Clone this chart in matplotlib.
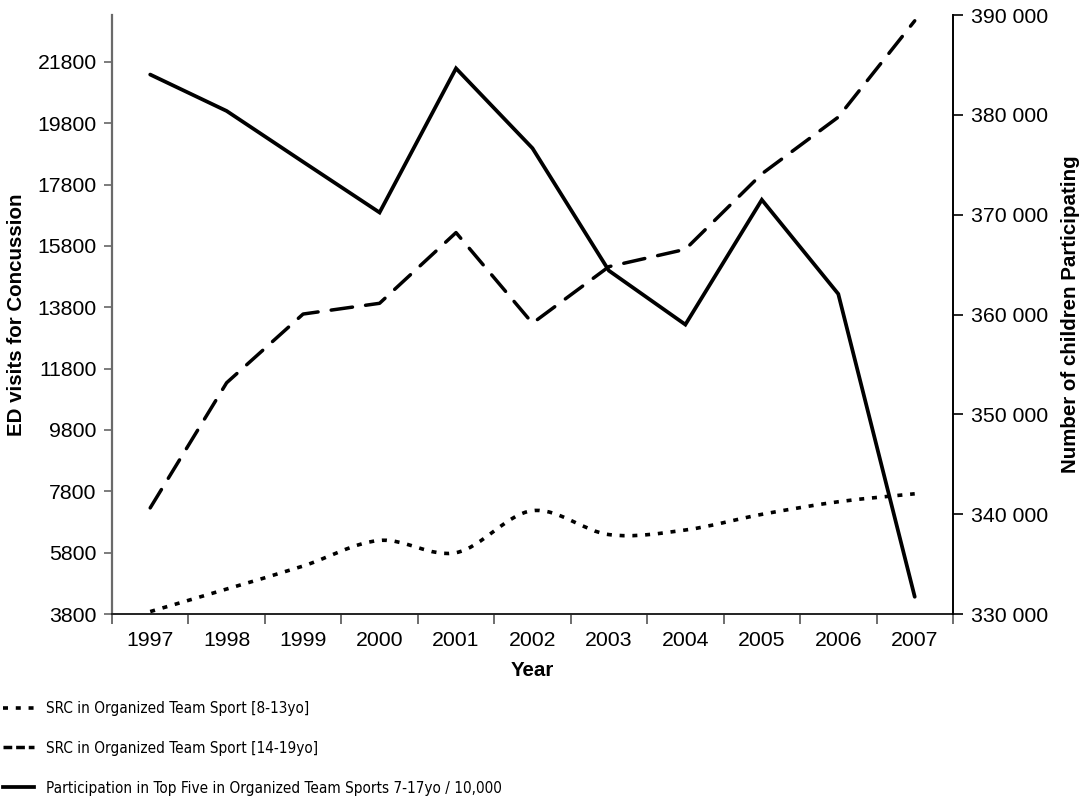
import numpy as np
import matplotlib
matplotlib.use("Agg")
import matplotlib.pyplot as plt
from matplotlib.path import Path
from matplotlib.patches import PathPatch
from matplotlib.lines import Line2D
from matplotlib.ticker import FuncFormatter

plt.rcParams['font.family'] = ['Liberation Sans', 'DejaVu Sans']
plt.rcParams['lines.scale_dashes'] = False

# Data
years = ['1997', '1998', '1999', '2000', '2001', '2002', '2003', '2004', '2005', '2006', '2007']
src_8_13 = [3880, 4615, 5365, 6200, 5800, 7170, 6390, 6540, 7050, 7460, 7720]
src_14_19 = [7260, 11340, 13580, 13930, 16235, 13280, 15125, 15690, 18150, 20000, 23140]
participation = [384050, 380400, 375300, 370230, 384670, 376670, 364400, 359000, 371500, 362070, 331730]

label_8_13 = 'SRC in Organized Team Sport [8-13yo]'
label_14_19 = 'SRC in Organized Team Sport [14-19yo]'
label_part = 'Participation in Top Five in Organized Team Sports 7-17yo / 10,000'

left_ticks = list(range(3800, 21801, 2000))
right_ticks = list(range(330000, 390001, 10000))

DOTS = (0, (3.6, 5.6))
DASHES = (0, (15.5, 9.5))
LW_DOT = 2.6
LW_DASH = 2.5
LW_SOLID = 2.7
TICK_FS = 15.3
LABEL_FS = 14.8
LEGEND_FS = 11.0

fig = plt.figure(figsize=(10.85, 7.96), dpi=100)
ax = fig.add_axes([0.1032, 0.2286, 0.7751, 0.7526])
ax2 = ax.twinx()

x = np.arange(len(years))


def smooth_path(xs, ys):
    # Catmull-Rom style cubic Bezier through the points
    pts = np.column_stack([xs, ys]).astype(float)
    n = len(pts)
    verts = [pts[0]]
    codes = [Path.MOVETO]
    for i in range(n - 1):
        p0 = pts[i - 1] if i > 0 else pts[i]
        p1 = pts[i]
        p2 = pts[i + 1]
        p3 = pts[i + 2] if i + 2 < n else pts[i + 1]
        c1 = p1 + (p2 - p0) / 6.0
        c2 = p2 - (p3 - p1) / 6.0
        verts += [c1, c2, p2]
        codes += [Path.CURVE4] * 3
    return Path(verts, codes)


dotted = PathPatch(smooth_path(x, src_8_13), facecolor='none', edgecolor='black',
                   linewidth=LW_DOT, linestyle=DOTS, capstyle='butt', joinstyle='round')
ax.add_patch(dotted)
ax.plot(x, src_14_19, color='black', lw=LW_DASH, linestyle=DASHES,
        dash_capstyle='round', solid_joinstyle='miter')
ax2.plot(x, participation, color='black', lw=LW_SOLID, solid_joinstyle='miter',
         solid_capstyle='round')

# Left axis
ax.set_xlim(-0.5, len(years) - 0.5)
ax.set_ylim(3800, 23330)
ax.set_yticks(left_ticks)
ax.set_yticklabels([str(v) for v in left_ticks])
ax.set_ylabel('ED visits for Concussion', fontsize=LABEL_FS, fontweight='bold', labelpad=8)

# Right axis
ax2.set_ylim(330000, 390000 + 20)
ax2.set_yticks(right_ticks)
ax2.yaxis.set_major_formatter(FuncFormatter(lambda v, p: f"{int(round(v)):,}".replace(',', ' ')))
ax2.set_ylabel('Number of children Participating', fontsize=LABEL_FS, fontweight='bold', labelpad=9)

# Category axis: ticks on the boundaries, labels at the centres
ax.set_xticks(np.arange(-0.5, len(years), 1.0))
ax.set_xticklabels([])
ax.set_xticks(x, minor=True)
ax.set_xticklabels(years, minor=True)
ax.tick_params(axis='x', which='minor', length=0, pad=12, labelsize=TICK_FS)
ax.tick_params(axis='x', which='major', length=7, width=1.2, color='#555555')
ax.set_xlabel('Year', fontsize=LABEL_FS, fontweight='bold', labelpad=8)

ax.tick_params(axis='y', length=6, width=1.2, color='#666666', labelsize=TICK_FS, pad=5)
ax2.tick_params(axis='y', length=7, width=1.2, color='black', labelsize=TICK_FS, pad=6)

for a in (ax, ax2):
    a.spines['top'].set_visible(False)
ax.spines['left'].set_color('#6a6a6a')
ax.spines['left'].set_linewidth(1.6)
ax.spines['bottom'].set_color('#222222')
ax.spines['bottom'].set_linewidth(1.4)
ax.spines['right'].set_visible(False)
ax2.spines['left'].set_visible(False)
ax2.spines['bottom'].set_visible(False)
ax2.spines['right'].set_color('black')
ax2.spines['right'].set_linewidth(1.4)

# Legend below the plot
handles = [
    Line2D([], [], color='black', lw=LW_DOT, linestyle=DOTS, dash_capstyle='butt'),
    Line2D([], [], color='black', lw=LW_DASH, linestyle=(0, (6.3, 2.8)), dash_capstyle='butt'),
    Line2D([], [], color='black', lw=LW_SOLID),
]
leg = fig.legend(handles, [label_8_13, label_14_19, label_part],
                 loc='upper left', bbox_to_anchor=(0.003, 1 - 701 / 796),
                 bbox_transform=fig.transFigure, frameon=False,
                 prop={'family': 'DejaVu Sans', 'stretch': 'condensed', 'size': LEGEND_FS},
                 handlelength=2.0, handletextpad=0.8, labelspacing=1.62,
                 borderaxespad=0, borderpad=0)

fig.savefig('out.png', dpi=100)
